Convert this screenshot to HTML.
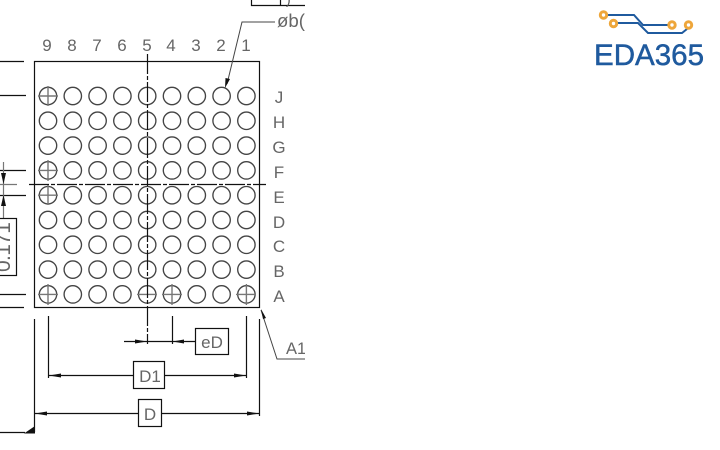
<!DOCTYPE html>
<html><head><meta charset="utf-8"><style>
html,body{margin:0;padding:0;background:#fff;width:720px;height:450px;overflow:hidden}
svg{display:block}
text{font-family:"Liberation Sans",sans-serif}
.t{font-size:17px;fill:#666;text-anchor:middle}
.b circle{r:8.7px}
</style></head><body>
<svg width="720" height="450" viewBox="0 0 720 450" xmlns="http://www.w3.org/2000/svg">
<defs><clipPath id="c"><rect x="0" y="0" width="305" height="450"/></clipPath></defs>
<g clip-path="url(#c)">
<g class="b" fill="none" stroke="#444" stroke-width="1.35">
<circle cx="48" cy="96" r="8.5"/><circle cx="72.8" cy="96" r="8.5"/><circle cx="97.6" cy="96" r="8.5"/><circle cx="122.4" cy="96" r="8.5"/><circle cx="147.2" cy="96" r="8.5"/><circle cx="172" cy="96" r="8.5"/><circle cx="196.8" cy="96" r="8.5"/><circle cx="221.6" cy="96" r="8.5"/><circle cx="246.4" cy="96" r="8.5"/>
<circle cx="48" cy="120.8" r="8.5"/><circle cx="72.8" cy="120.8" r="8.5"/><circle cx="97.6" cy="120.8" r="8.5"/><circle cx="122.4" cy="120.8" r="8.5"/><circle cx="147.2" cy="120.8" r="8.5"/><circle cx="172" cy="120.8" r="8.5"/><circle cx="196.8" cy="120.8" r="8.5"/><circle cx="221.6" cy="120.8" r="8.5"/><circle cx="246.4" cy="120.8" r="8.5"/>
<circle cx="48" cy="145.6" r="8.5"/><circle cx="72.8" cy="145.6" r="8.5"/><circle cx="97.6" cy="145.6" r="8.5"/><circle cx="122.4" cy="145.6" r="8.5"/><circle cx="147.2" cy="145.6" r="8.5"/><circle cx="172" cy="145.6" r="8.5"/><circle cx="196.8" cy="145.6" r="8.5"/><circle cx="221.6" cy="145.6" r="8.5"/><circle cx="246.4" cy="145.6" r="8.5"/>
<circle cx="48" cy="170.4" r="8.5"/><circle cx="72.8" cy="170.4" r="8.5"/><circle cx="97.6" cy="170.4" r="8.5"/><circle cx="122.4" cy="170.4" r="8.5"/><circle cx="147.2" cy="170.4" r="8.5"/><circle cx="172" cy="170.4" r="8.5"/><circle cx="196.8" cy="170.4" r="8.5"/><circle cx="221.6" cy="170.4" r="8.5"/><circle cx="246.4" cy="170.4" r="8.5"/>
<circle cx="48" cy="195.2" r="8.5"/><circle cx="72.8" cy="195.2" r="8.5"/><circle cx="97.6" cy="195.2" r="8.5"/><circle cx="122.4" cy="195.2" r="8.5"/><circle cx="147.2" cy="195.2" r="8.5"/><circle cx="172" cy="195.2" r="8.5"/><circle cx="196.8" cy="195.2" r="8.5"/><circle cx="221.6" cy="195.2" r="8.5"/><circle cx="246.4" cy="195.2" r="8.5"/>
<circle cx="48" cy="220" r="8.5"/><circle cx="72.8" cy="220" r="8.5"/><circle cx="97.6" cy="220" r="8.5"/><circle cx="122.4" cy="220" r="8.5"/><circle cx="147.2" cy="220" r="8.5"/><circle cx="172" cy="220" r="8.5"/><circle cx="196.8" cy="220" r="8.5"/><circle cx="221.6" cy="220" r="8.5"/><circle cx="246.4" cy="220" r="8.5"/>
<circle cx="48" cy="244.8" r="8.5"/><circle cx="72.8" cy="244.8" r="8.5"/><circle cx="97.6" cy="244.8" r="8.5"/><circle cx="122.4" cy="244.8" r="8.5"/><circle cx="147.2" cy="244.8" r="8.5"/><circle cx="172" cy="244.8" r="8.5"/><circle cx="196.8" cy="244.8" r="8.5"/><circle cx="221.6" cy="244.8" r="8.5"/><circle cx="246.4" cy="244.8" r="8.5"/>
<circle cx="48" cy="269.6" r="8.5"/><circle cx="72.8" cy="269.6" r="8.5"/><circle cx="97.6" cy="269.6" r="8.5"/><circle cx="122.4" cy="269.6" r="8.5"/><circle cx="147.2" cy="269.6" r="8.5"/><circle cx="172" cy="269.6" r="8.5"/><circle cx="196.8" cy="269.6" r="8.5"/><circle cx="221.6" cy="269.6" r="8.5"/><circle cx="246.4" cy="269.6" r="8.5"/>
<circle cx="48" cy="294.4" r="8.5"/><circle cx="72.8" cy="294.4" r="8.5"/><circle cx="97.6" cy="294.4" r="8.5"/><circle cx="122.4" cy="294.4" r="8.5"/><circle cx="147.2" cy="294.4" r="8.5"/><circle cx="172" cy="294.4" r="8.5"/><circle cx="196.8" cy="294.4" r="8.5"/><circle cx="221.6" cy="294.4" r="8.5"/><circle cx="246.4" cy="294.4" r="8.5"/>
</g>
<g stroke="#777" stroke-width="1.4" fill="none">
<path d="M38 96H58M48 86V106M38 170.4H58M48 160V181M38 195.2H58M48 185V205M38 294.4H58M48 284V305M162 294.4H182M172 284V305M236 294.4H256M246.4 284V305M137 294.4H157"/>
</g>
<g stroke="#111" stroke-width="1.2" fill="none">
<rect x="34.5" y="61.5" width="225" height="246"/>
<path d="M147.5 54V344" stroke-dasharray="20 2 4 2"/>
<path d="M29 184.5H266" stroke-dasharray="20 2 4 2"/>
<path d="M0 61.5H24M0 95.5H26M0 170.5H26M0 195.5H26M0 294.5H26M0 307.5H24"/>
<path d="M251.5 0V5.5H305M280.5 0V5.5"/>
<path d="M48.5 316V378M246.5 316V378M34.5 319V432M259.5 319V416M172.5 316V344"/>
<path d="M124 341.5H195M48.5 375.5H133M164 375.5H246.5M35 413.5H138M161 413.5H259.5"/>
<path d="M0 432.5H25"/>
</g>
<path d="M3.5 162V218M0 184.5H17" stroke="#777" stroke-width="1.2" fill="none"/>
<path d="M275 22H242L227 84M261 310L277 359H305" stroke="#444" stroke-width="1" fill="none"/>
<g fill="#111">
<path d="M225 88L225.5 78L230 79Z"/>
<path d="M261 309L266 318L263 319Z"/>
<path d="M147 341.5L135 339.5V343.5ZM172.5 341.5L184 339.5V343.5Z"/>
<path d="M49 375.5L61 373.5V377.5ZM246 375.5L234 373.5V377.5Z"/>
<path d="M35 413.5L47 411.5V415.5ZM259 413.5L247 411.5V415.5Z"/>
<path d="M3.5 184L1 173H6ZM3.5 195L1 206H6Z"/>
<path d="M35 426V433.5H24Z"/>
</g>
<g fill="#fff" stroke="#111" stroke-width="1.2">
<rect x="195.5" y="328.5" width="33" height="26"/>
<rect x="133.5" y="361.5" width="31" height="27"/>
<rect x="138.5" y="399.5" width="23" height="27"/>
<rect x="-2" y="218.5" width="18.5" height="57"/>
</g>
<g class="nums">
<text class="t" x="47" y="51">9</text><text class="t" x="72" y="51">8</text><text class="t" x="97" y="51">7</text><text class="t" x="122" y="51">6</text><text class="t" x="147" y="51">5</text><text class="t" x="171" y="51">4</text><text class="t" x="196" y="51">3</text><text class="t" x="221" y="51">2</text><text class="t" x="246" y="51">1</text>
<text class="t" x="279" y="103">J</text><text class="t" x="279" y="128">H</text><text class="t" x="279" y="153">G</text><text class="t" x="279" y="178">F</text><text class="t" x="279" y="203">E</text><text class="t" x="279" y="228">D</text><text class="t" x="279" y="252">C</text><text class="t" x="279" y="277">B</text><text class="t" x="279" y="302">A</text>
<text class="t" x="212" y="348">eD</text>
<text class="t" x="150" y="382">D1</text>
<text class="t" x="150" y="420">D</text>
<text x="286" y="354" style="font-size:16.5px;fill:#666">A1</text>
<text x="277" y="27" style="font-size:18px;fill:#666" textLength="28" lengthAdjust="spacingAndGlyphs">øb(</text>
<text x="286" y="4" style="font-size:14px;fill:#555">)</text>
<text transform="translate(10,272) rotate(-90)" x="0" y="0" style="font-size:21px;fill:#666" textLength="50" lengthAdjust="spacing">0.171</text>
</g>
</g>
<g fill="none" stroke="#1f5a9e" stroke-width="2">
<path d="M607 15H634L643 25H669"/>
<path d="M617 23H638L648 33H682L687 29"/>
</g>
<g fill="#fff" stroke="#eea63a" stroke-width="3">
<circle cx="603.5" cy="15" r="3.2"/>
<circle cx="613.5" cy="23.5" r="3.2"/>
<circle cx="672" cy="25" r="3.2"/>
<circle cx="688.5" cy="25" r="3.2"/>
</g>
<text x="594" y="65" textLength="110" lengthAdjust="spacingAndGlyphs" style="font-size:30px;fill:#1f5a9e;stroke:#1f5a9e;stroke-width:.5">EDA365</text>
</svg>
</body></html>
